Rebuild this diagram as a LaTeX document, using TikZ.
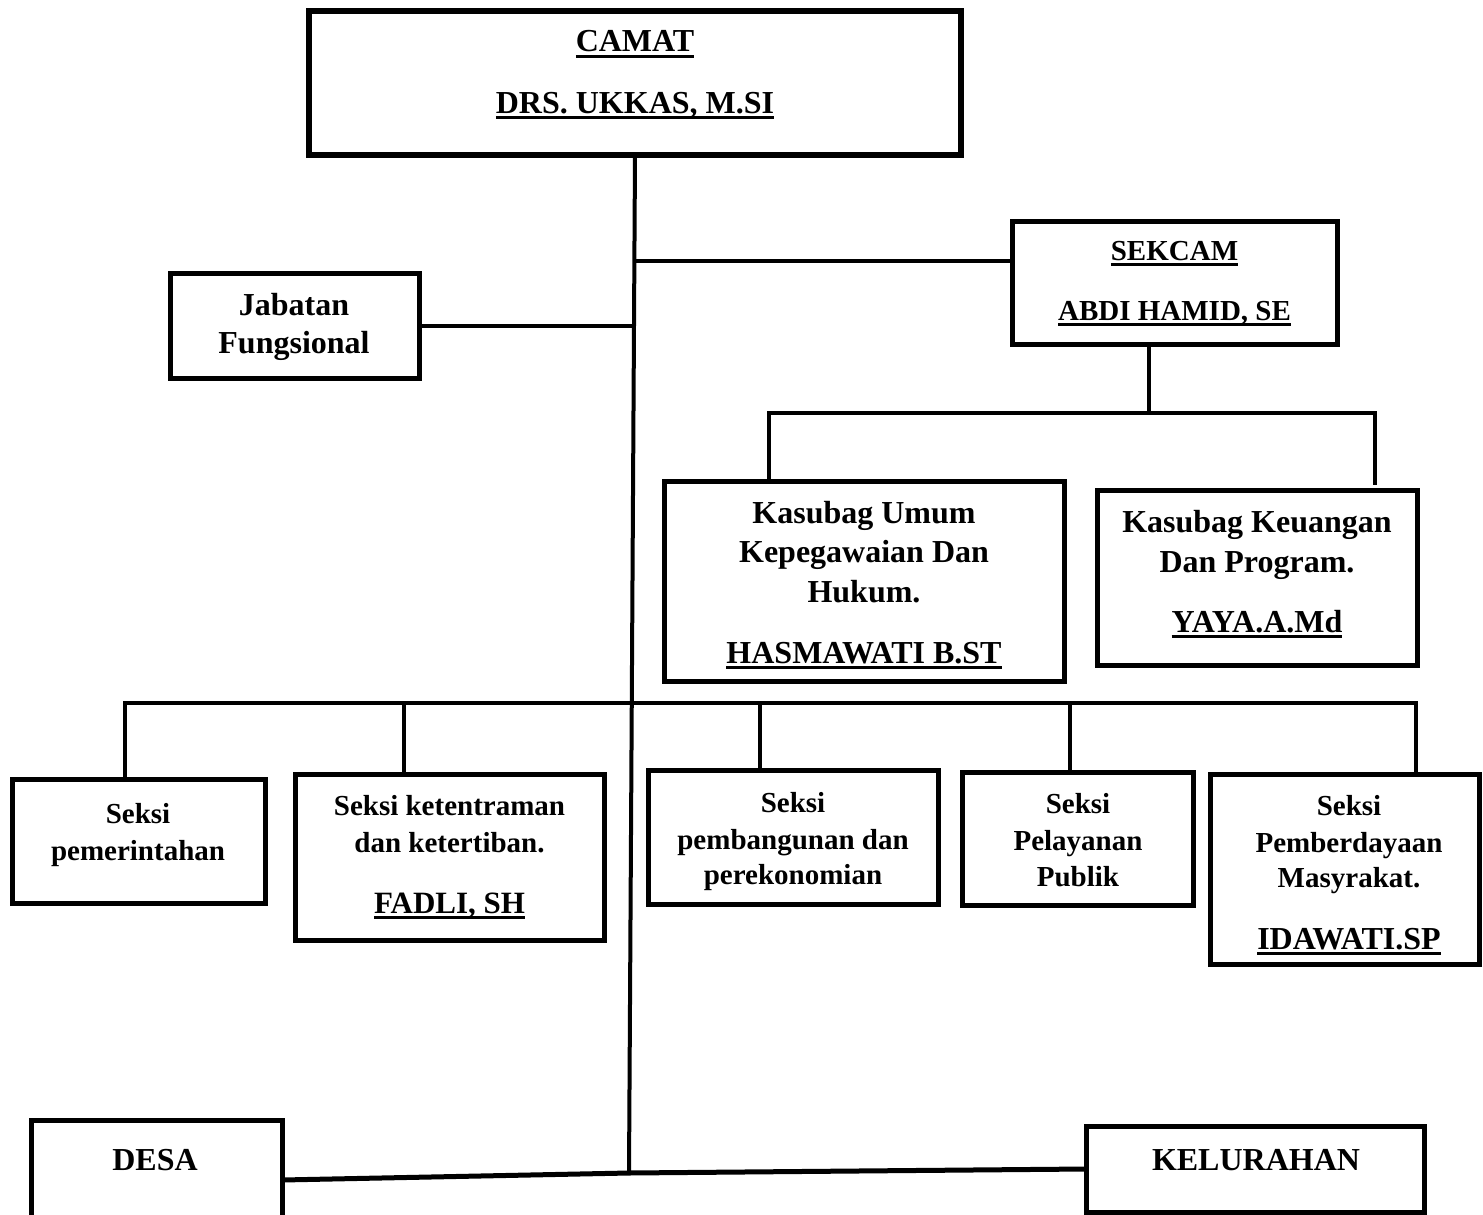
\documentclass[tikz,border=0pt]{standalone}
\usepackage{fontspec}
\setmainfont{Liberation Serif}
\usetikzlibrary{calc}
\newcommand\myul[1]{\setbox0\hbox{#1}\rlap{\rule[-6pt]{\wd0}{2.8pt}}\box0}
\begin{document}
\begin{tikzpicture}[x=1pt,y=-1pt,
  box/.style={draw, line width=5pt, rectangle, inner sep=0pt, outer sep=0pt},
  big/.style={font=\fontsize{32}{38}\selectfont\bfseries, inner sep=0pt, anchor=base},
  small/.style={font=\fontsize{29}{35}\selectfont\bfseries, inner sep=0pt, anchor=base},
  conn/.style={line width=4pt}]
\useasboundingbox (0,0) rectangle (1483,1215);
\fill[white] (0,0) rectangle (1483,1215);
\clip (0,0) rectangle (1483,1215);

% boxes
\node[box, line width=5.5pt, minimum width=652pt, minimum height=144pt] (camat) at (635,83) {};
\node[box, minimum width=325pt, minimum height=123pt] (sekcam) at (1174.5,282.5) {};
\node[box, minimum width=249pt, minimum height=105pt] (jab) at (294.5,325.5) {};
\node[box, minimum width=400pt, minimum height=200pt] (kum) at (864,581) {};
\node[box, minimum width=320pt, minimum height=175pt] (kkeu) at (1257,577.5) {};
\node[box, minimum width=253pt, minimum height=124pt] (spem) at (138.5,841) {};
\node[box, minimum width=309pt, minimum height=166pt] (sket) at (449.5,857) {};
\node[box, minimum width=290pt, minimum height=134pt] (spb) at (793,837) {};
\node[box, minimum width=231pt, minimum height=133pt] (spl) at (1077.5,838.5) {};
\node[box, minimum width=269pt, minimum height=190pt] (spm) at (1344.5,869) {};
\node[box, minimum width=251pt, minimum height=120pt] (desa) at (156.5,1180) {};
\node[box, minimum width=338pt, minimum height=86pt] (kel) at (1255,1169) {};

% texts
\node[big] (t1) at (635,52) {\myul{CAMAT}};
\node[big] (t2) at (635,113) {\myul{DRS. UKKAS, M.SI}};
\node[small] (t3) at (1174.5,260) {\myul{SEKCAM}};
\node[small] (t4) at (1174.5,320) {\myul{ABDI HAMID, SE}};
\node[big] (t5) at (294,315) {Jabatan};
\node[big] (t6) at (294,353) {Fungsional};
\node[big] (t7) at (864,523) {Kasubag Umum};
\node[big] (t8) at (864,562) {Kepegawaian Dan};
\node[big] (t9) at (864,602) {Hukum.};
\node[big] (t10) at (864,663) {\myul{HASMAWATI B.ST}};
\node[big] (t11) at (1257,532) {Kasubag Keuangan};
\node[big] (t12) at (1257,572) {Dan Program.};
\node[big] (t13) at (1257,632) {\myul{YAYA.A.Md}};
\node[small] (t14) at (138,823) {Seksi};
\node[small] (t15) at (138,860) {pemerintahan};
\node[small] (t16) at (449.5,815) {Seksi ketentraman};
\node[small] (t17) at (449.5,852) {dan ketertiban.};
\node[big, font=\fontsize{31}{37}\selectfont\bfseries] (t18) at (449.5,913) {\myul{FADLI, SH}};
\node[small] (t19) at (793,812) {Seksi};
\node[small] (t20) at (793,849) {pembangunan dan};
\node[small] (t21) at (793,884) {perekonomian};
\node[small] (t22) at (1078,813) {Seksi};
\node[small] (t23) at (1078,850) {Pelayanan};
\node[small] (t24) at (1078,886) {Publik};
\node[small] (t25) at (1349,815) {Seksi};
\node[small] (t26) at (1349,852) {Pemberdayaan};
\node[small] (t27) at (1349,887) {Masyrakat.};
\node[big] (t28) at (1349,949) {\myul{IDAWATI.SP}};
\node[big] (t29) at (155,1170) {DESA};
\node[big] (t30) at (1256,1170) {KELURAHAN};

% connectors
\coordinate (mbot) at (629,1173);
\draw[conn] (camat.south) -- (mbot);
\coordinate (jsek) at (634.4,261);
\draw[conn] (jsek) -- (jsek -| sekcam.west);
\coordinate (jjab) at (633.6,325);
\draw[conn] (jab.east) -- (jab.east -| jjab);

\coordinate (sd) at (1149,413);
\coordinate (kL) at (769,413);
\coordinate (kR) at (1375,413);
\coordinate (kRend) at (1375,485);
\draw[conn] (sekcam.south -| sd) -- (sd);
\draw[conn] (kum.north -| kL) -- (kL) -- (kR) -- (kRend);

\coordinate (sL) at (125,703);
\coordinate (sR) at (1416,703);
\coordinate (d2) at (404,703);
\coordinate (d3) at (760,703);
\coordinate (d4) at (1070,703);
\draw[conn] (spem.north -| sL) -- (sL) -- (sR) -- (spm.north -| sR);
\draw[conn] (d2) -- (sket.north -| d2);
\draw[conn] (d3) -- (spb.north -| d3);
\draw[conn] (d4) -- (spl.north -| d4);

\draw[line width=5pt] (desa.east) -- (mbot) -- (kel.west);
\end{tikzpicture}
\end{document}
